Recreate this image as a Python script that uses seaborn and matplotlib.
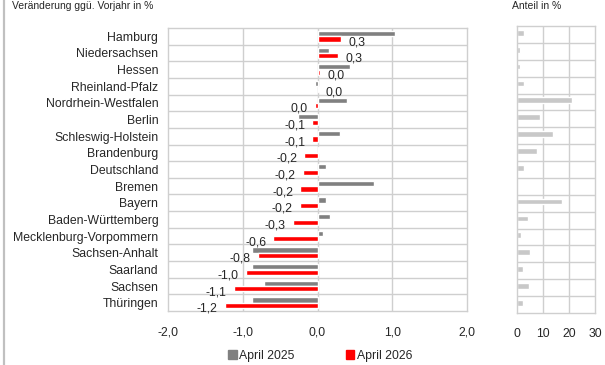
import matplotlib
matplotlib.use('Agg')

import matplotlib.pyplot as plt
import seaborn as sns
import pandas as pd
from matplotlib.patches import Patch
from matplotlib.lines import Line2D


laender = [
    "Hamburg", "Niedersachsen", "Hessen", "Rheinland-Pfalz",
    "Nordrhein-Westfalen", "Berlin", "Schleswig-Holstein", "Brandenburg",
    "Deutschland", "Bremen", "Bayern", "Baden-Württemberg",
    "Mecklenburg-Vorpommern", "Sachsen-Anhalt", "Saarland", "Sachsen",
    "Thüringen",
]
april_2025 = [1.04, 0.15, 0.44, -0.04, 0.39, -0.26, 0.30, 0.02,
              0.12, 0.76, 0.11, 0.17, 0.08, -0.88, -0.87, -0.71, -0.88]
april_2026 = [0.32, 0.28, 0.04, 0.02, -0.04, -0.07, -0.07, -0.18,
              -0.20, -0.23, -0.24, -0.33, -0.59, -0.80, -0.96, -1.12, -1.24]
anteil = [2.8, 1.0, 1.0, 2.8, 21.0, 8.8, 14.0, 7.7,
          2.6, 0.0, 17.2, 4.1, 1.7, 4.9, 2.2, 4.5, 2.2]
series = ["April 2025", "April 2026"]
colors = ["#808080", "#ff0000"]

df = pd.DataFrame({
    "Land": laender * 2,
    "Wert": april_2025 + april_2026,
    "Serie": [series[0]] * len(laender) + [series[1]] * len(laender),
})
df_share = pd.DataFrame({"Land": laender, "Anteil": anteil})

sns.set_style("white")
plt.rcParams['font.family'] = ['Liberation Sans', 'DejaVu Sans']
FS = 8.8

fig = plt.figure(figsize=(6.05, 3.65), dpi=100)
ax = fig.add_axes([168 / 605, 1 - 311 / 365, 299 / 605, 283 / 365])
ax2 = fig.add_axes([517 / 605, 1 - 313 / 365, 78 / 605, 287 / 365])

grid_c = "#cfcfcf"

sns.barplot(
    data=df, y="Land", x="Wert", hue="Serie", orient="h",
    palette=colors, width=0.66, gap=0.05, ax=ax, legend=False,
    saturation=1,
)
ax.set_xlim(-2, 2)
ax.set_ylim(len(laender) - 0.5, -0.5)
ax.set_xticks([-2, -1, 0, 1, 2])
ax.set_xticklabels(["-2,0", "-1,0", "0,0", "1,0", "2,0"], fontsize=FS)
ax.set_yticks(range(len(laender)))
ax.set_yticklabels(laender, fontsize=FS)
ax.set_xlabel("")
ax.set_ylabel("")
ax.tick_params(axis="x", length=0, pad=11)
ax.tick_params(axis="y", length=0, pad=7)
for x in [-1, 0, 1]:
    ax.axvline(x, color=grid_c, lw=1, zorder=0)
for i in range(len(laender) - 1):
    ax.axhline(i + 0.5, color=grid_c, lw=1, zorder=0)
for s in ax.spines.values():
    s.set_color(grid_c)
    s.set_linewidth(1)

# data labels for April 2026
for i, v in enumerate(april_2026):
    txt = f"{v:.1f}".replace(".", ",")
    if txt == "-0,0":
        txt = "0,0"
    if v >= 0:
        ax.annotate(txt, (v, i + 0.36), xytext=(7, 0),
                    textcoords="offset pixels", ha="left", va="center",
                    fontsize=FS)
    else:
        ax.annotate(txt, (v, i + 0.36), xytext=(-7, 0),
                    textcoords="offset pixels", ha="right", va="center",
                    fontsize=FS)

sns.barplot(
    data=df_share, y="Land", x="Anteil", orient="h", color="#c8c8c8",
    width=0.34, ax=ax2, saturation=1,
)
for p in ax2.patches:
    p.set_y(p.get_y() - 0.1)
ax2.set_xlim(0, 30)
ax2.set_ylim(len(laender) - 0.5, -0.5)
ax2.set_xticks([0, 10, 20, 30])
ax2.set_xticklabels(["0", "10", "20", "30"], fontsize=FS)
ax2.set_yticks([])
ax2.set_xlabel("")
ax2.set_ylabel("")
ax2.tick_params(axis="x", length=0, pad=11)
for x in [10, 20]:
    ax2.axvline(x, color=grid_c, lw=1, zorder=0)
for i in range(len(laender) - 1):
    ax2.axhline(i + 0.5, color=grid_c, lw=1, zorder=0)
for s in ax2.spines.values():
    s.set_color(grid_c)
    s.set_linewidth(1)

fig.text(12 / 605, 1 - 1 / 365, "Veränderung ggü. Vorjahr in %",
         fontsize=7.5, ha="left", va="top")
fig.text(512 / 605, 1 - 1 / 365, "Anteil in %",
         fontsize=7.5, ha="left", va="top")

fig.add_artist(Line2D([4 / 605, 4 / 605], [0, 1], color="#c0c0c0", lw=1.6,
                      transform=fig.transFigure))

handles = [Patch(color=c) for c in colors]
fig.legend(handles, series, loc="center", bbox_to_anchor=(320 / 605, 9 / 365),
           ncol=2, frameon=False, fontsize=FS, handlelength=0.7,
           handleheight=0.7, handletextpad=0.2, columnspacing=4.2)

plt.savefig("out.png", dpi=100)
plt.close()
